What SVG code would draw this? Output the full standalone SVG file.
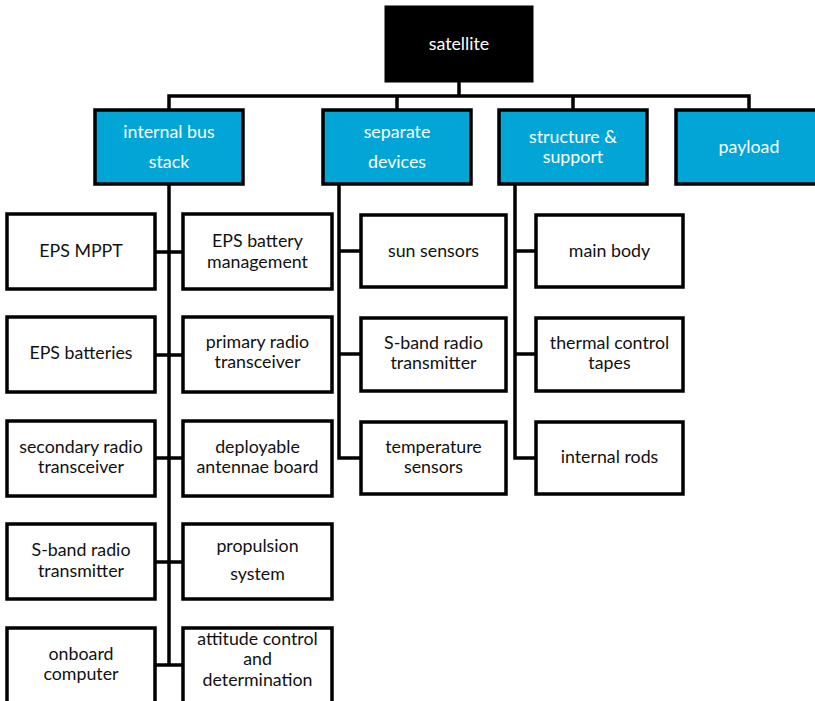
<svg xmlns="http://www.w3.org/2000/svg" width="815" height="701" viewBox="0 0 815 701">
  <style>
    .box { fill: #ffffff; stroke: #000000; stroke-width: 3.5; }
    .cat { fill: #02a6d6; stroke: #000000; stroke-width: 3.5; }
    .root { fill: #000000; stroke: #000000; stroke-width: 1; }
    .wire { fill: none; stroke: #000000; stroke-width: 3.5; stroke-linecap: butt; stroke-linejoin: miter; }
    text { font-family: Lato, "Open Sans", sans-serif; font-size: 17.8px; text-anchor: middle; }
    .lt { fill: #ffffff; }
    .dk { fill: #111111; }
  </style>
  <rect width="815" height="701" fill="#ffffff"/>

  <!-- connectors -->
  <g id="connectors" class="wire">
    <!-- root to categories -->
    <path d="M459 82 V96"/>
    <path d="M169 110 V96 H749 V110"/>
    <path d="M397 96 V110"/>
    <path d="M573 96 V110"/>
    <!-- internal bus stack -->
    <path d="M169 184 V665"/>
    <path d="M155 252 H183"/>
    <path d="M155 355 H183"/>
    <path d="M155 458 H183"/>
    <path d="M155 562 H183"/>
    <path d="M155 665 H183"/>
    <!-- separate devices -->
    <path d="M339 184 V458 H361"/>
    <path d="M339 251 H361"/>
    <path d="M339 354 H361"/>
    <!-- structure & support -->
    <path d="M515 184 V458 H536"/>
    <path d="M515 251 H536"/>
    <path d="M515 354 H536"/>
  </g>

  <!-- root -->
  <g id="satellite">
    <rect class="root" x="385" y="6" width="148" height="76"/>
    <text class="lt" x="459" y="50">satellite</text>
  </g>

  <!-- categories -->
  <g id="internal-bus-stack">
    <rect class="cat" x="95" y="110" width="148" height="74"/>
    <text class="lt" x="169" y="138">internal bus</text>
    <text class="lt" x="169" y="168">stack</text>
  </g>
  <g id="separate-devices">
    <rect class="cat" x="323" y="110" width="148" height="74"/>
    <text class="lt" x="397" y="138">separate</text>
    <text class="lt" x="397" y="168">devices</text>
  </g>
  <g id="structure-support">
    <rect class="cat" x="499" y="110" width="148" height="74"/>
    <text class="lt" x="573" y="143">structure &amp;</text>
    <text class="lt" x="573" y="163">support</text>
  </g>
  <g id="payload">
    <rect class="cat" x="676" y="110" width="148" height="74"/>
    <text class="lt" x="749" y="153">payload</text>
  </g>

  <!-- internal bus stack: left column -->
  <g id="eps-mppt">
    <rect class="box" x="7" y="214" width="148" height="75"/>
    <text class="dk" x="81" y="257">EPS MPPT</text>
  </g>
  <g id="eps-batteries">
    <rect class="box" x="7" y="317" width="148" height="75"/>
    <text class="dk" x="81" y="359">EPS batteries</text>
  </g>
  <g id="secondary-radio">
    <rect class="box" x="7" y="421" width="148" height="75"/>
    <text class="dk" x="81" y="453">secondary radio</text>
    <text class="dk" x="81" y="473">transceiver</text>
  </g>
  <g id="sband-bus">
    <rect class="box" x="7" y="524" width="148" height="75"/>
    <text class="dk" x="81" y="556">S-band radio</text>
    <text class="dk" x="81" y="577">transmitter</text>
  </g>
  <g id="onboard-computer">
    <rect class="box" x="7" y="628" width="148" height="80"/>
    <text class="dk" x="81" y="660">onboard</text>
    <text class="dk" x="81" y="680">computer</text>
  </g>

  <!-- internal bus stack: right column -->
  <g id="eps-battery-management">
    <rect class="box" x="183" y="214" width="149" height="75"/>
    <text class="dk" x="257.5" y="246.5">EPS battery</text>
    <text class="dk" x="257.5" y="268">management</text>
  </g>
  <g id="primary-radio">
    <rect class="box" x="183" y="317" width="149" height="75"/>
    <text class="dk" x="257.5" y="348">primary radio</text>
    <text class="dk" x="257.5" y="368">transceiver</text>
  </g>
  <g id="deployable-antennae">
    <rect class="box" x="183" y="421" width="149" height="75"/>
    <text class="dk" x="257.5" y="453">deployable</text>
    <text class="dk" x="257.5" y="473">antennae board</text>
  </g>
  <g id="propulsion">
    <rect class="box" x="183" y="524" width="149" height="75"/>
    <text class="dk" x="257.5" y="552">propulsion</text>
    <text class="dk" x="257.5" y="580">system</text>
  </g>
  <g id="attitude-control">
    <rect class="box" x="183" y="628" width="149" height="80"/>
    <text class="dk" x="257.5" y="645">attitude control</text>
    <text class="dk" x="257.5" y="665">and</text>
    <text class="dk" x="257.5" y="686">determination</text>
  </g>

  <!-- separate devices -->
  <g id="sun-sensors">
    <rect class="box" x="361" y="215" width="145" height="72"/>
    <text class="dk" x="433.5" y="257">sun sensors</text>
  </g>
  <g id="sband-separate">
    <rect class="box" x="361" y="318" width="145" height="73"/>
    <text class="dk" x="433.5" y="349">S-band radio</text>
    <text class="dk" x="433.5" y="369">transmitter</text>
  </g>
  <g id="temperature-sensors">
    <rect class="box" x="361" y="422" width="145" height="72"/>
    <text class="dk" x="433.5" y="453">temperature</text>
    <text class="dk" x="433.5" y="473">sensors</text>
  </g>

  <!-- structure & support -->
  <g id="main-body">
    <rect class="box" x="536" y="215" width="147" height="72"/>
    <text class="dk" x="609.5" y="257">main body</text>
  </g>
  <g id="thermal-tapes">
    <rect class="box" x="536" y="318" width="147" height="73"/>
    <text class="dk" x="609.5" y="349">thermal control</text>
    <text class="dk" x="609.5" y="369">tapes</text>
  </g>
  <g id="internal-rods">
    <rect class="box" x="536" y="422" width="147" height="72"/>
    <text class="dk" x="609.5" y="463">internal rods</text>
  </g>
</svg>
